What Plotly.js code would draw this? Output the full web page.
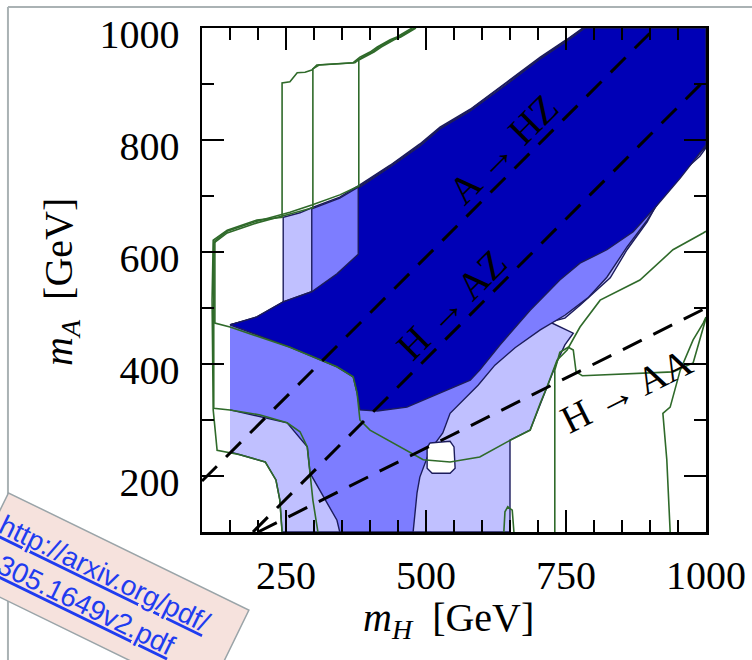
<!DOCTYPE html>
<html>
<head>
<meta charset="utf-8">
<script src="https://cdn.plot.ly/plotly-3.0.1.min.js"></script>
<style>
  html, body { margin: 0; padding: 0; background: #ffffff; }
  #chart { width: 752px; height: 660px; }
</style>
</head>
<body>
<div id="chart"></div>
<script>
// Allowed regions in the (m_H, m_A) plane, in GeV.
// Outer (lightest) region boundary
const lightH = [150,198,245,245,275,296,346,379,436,489,525,579,645,704,752,780,1000,1000,989,971,941,918,895,859,829,802,775,748,721,763,748,734,716,704,686,650,650,243,239,232,213,168,150];
const lightA = [470,482,509,662,670,679,698,718,755,793,823,855,904,948,980,1000,1000,786,771,755,723,696,654,604,554,529,505,482,475,455,434,404,359,330,282,264,100,100,157,193,225,238,243];

// Middle region boundary
const midH = [150,198,245,296,296,346,379,436,489,525,579,645,704,752,782,1000,1000,977,941,895,859,823,789,748,704,659,623,593,570,543,530,507,489,484,477,346,341,320,293,288,252,150];
const midA = [470,484,511,529,677,696,716,754,791,821,854,902,946,979,1000,1000,788,764,729,657,609,555,518,487,461,429,398,362,339,312,277,246,198,170,100,100,121,157,205,252,295,318];

// Inner (darkest) region boundary
const darkH = [150,198,245,296,341,379,379,436,489,525,579,645,704,752,784,1000,1000,989,954,913,870,823,775,739,686,632,596,579,525,466,413,382,377,370,341,257,150];
const darkA = [470,484,511,529,561,596,714,752,789,820,852,900,945,977,1000,1000,791,777,732,684,636,604,580,550,496,434,389,371,348,323,316,318,348,377,395,430,470];

// Excluded island inside the outer region
const holeH = [507,543,550,552,543,511,502,502,507];
const holeA = [259,262,252,214,205,205,214,250,259];

// Green contours
const g1H = [475,448,436,413,400,382,370,305,296,284,270,257,243,243,198,145,120,118,120,127,168,213,232,239,243];
const g1A = [1000,984,979,966,957,948,938,934,925,921,920,904,902,662,657,639,621,514,318,246,238,225,193,157,100];

const g2H = [479,452,439,416,404,386,373,309,298,298,257,198,145,121,121,121,150,204,252,275,288,293,298,307];
const g2A = [1000,984,979,966,957,948,938,934,927,679,668,652,634,616,514,321,318,309,295,279,252,205,157,100];

const g3H = [482,455,443,420,407,389,380,380,346,296,257,198,145,123,123,150,257,341,370,377,382,400,466,495,543,596,645,686,704,716,734,752,775,811,882,941,995,1000];
const g3A = [1000,984,979,966,957,948,943,718,702,684,671,655,637,620,473,466,430,395,377,348,300,282,246,229,225,234,261,282,330,359,407,425,466,514,550,604,634,637];

const g4H = [730,730,739,754,763,768,779,846,941,977,995,1000];
const g4A = [100,389,421,430,425,386,379,382,386,402,466,482];

const g5H = [936,930,923,936,954,977,995,1000];
const g5A = [100,229,312,323,389,443,473,484];

const g6H = [639,641,646,654,657];
const g6A = [100,136,145,139,100];

// Kinematic thresholds
const azLineH = [100, 909];   // A -> HZ
const azLineA = [191, 1000];
const hzLineH = [191, 1000];  // H -> AZ
const hzLineA = [100, 909];
const aaLineH = [200, 1000];  // H -> AA
const aaLineA = [100, 500];

// Axis ticks
const xTickVals = [250, 500, 750, 1000];
const yTickVals = [200, 400, 600, 800, 1000];

const NAVY = '#1c1c5c';
const GREEN = '#2f6a2a';

function region(x, y, fill) {
  return {
    x: x, y: y, type: 'scatter', mode: 'lines', fill: 'toself',
    fillcolor: fill, line: { color: NAVY, width: 1.4 },
    hoverinfo: 'skip', showlegend: false
  };
}
function contour(x, y) {
  return {
    x: x, y: y, type: 'scatter', mode: 'lines',
    line: { color: GREEN, width: 1.6 },
    hoverinfo: 'skip', showlegend: false
  };
}
function threshold(x, y) {
  return {
    x: x, y: y, type: 'scatter', mode: 'lines',
    line: { color: '#000000', width: 3, dash: '21px,13px' },
    hoverinfo: 'skip', showlegend: false
  };
}

const traces = [
  region(lightH, lightA, 'rgb(192,192,255)'),
  region(midH, midA, 'rgb(125,125,255)'),
  region(darkH, darkA, 'rgb(0,0,182)'),
  region(holeH, holeA, '#ffffff'),
  contour(g1H, g1A),
  contour(g2H, g2A),
  contour(g3H, g3A),
  contour(g4H, g4A),
  contour(g5H, g5A),
  contour(g6H, g6A),
  threshold(azLineH, azLineA),
  threshold(hzLineH, hzLineA),
  threshold(aaLineH, aaLineA)
];

const SERIF = 'Liberation Serif, Times New Roman, serif';

const axisCommon = {
  range: [100, 1000],
  showline: true, linewidth: 2.5, linecolor: '#000',
  mirror: 'ticks',
  ticks: 'inside', ticklen: 22, tickwidth: 2.5, tickcolor: '#000',
  showgrid: false, zeroline: false,
  tickfont: { family: SERIF, size: 40, color: '#000' },
  fixedrange: true
};

const layout = {
  width: 752, height: 660,
  margin: { l: 202, r: 46, t: 28, b: 128, pad: 0 },
  paper_bgcolor: '#ffffff', plot_bgcolor: '#ffffff',
  showlegend: false,
  xaxis: Object.assign({}, axisCommon, {
    tickmode: 'array', tickvals: xTickVals, ticktext: xTickVals.map(String),
    minor: { ticks: 'inside', ticklen: 12, tickwidth: 2.5, tickcolor: '#000', dtick: 50, tick0: 0, showgrid: false },
    ticklabelstandoff: 6
  }),
  yaxis: Object.assign({}, axisCommon, {
    tickmode: 'array', tickvals: yTickVals, ticktext: yTickVals.map(String),
    minor: { ticks: 'inside', ticklen: 12, tickwidth: 2.5, tickcolor: '#000', dtick: 100, tick0: 0, showgrid: false },
    ticklabelstandoff: 12, ticklabelshift: 6
  }),
  shapes: [
    // slide frame
    { type: 'line', xref: 'paper', yref: 'paper', x0: -0.385, x1: 1.10, y0: 1.0417, y1: 1.0417,
      line: { color: '#aab2b4', width: 2 }, layer: 'below' },
    { type: 'line', xref: 'paper', yref: 'paper', x0: -0.385, x1: -0.385, y0: 1.0417, y1: -0.27,
      line: { color: '#aab2b4', width: 2 }, layer: 'below' }
  ],
  annotations: [
    { text: 'A → HZ', x: 639, y: 784, xref: 'x', yref: 'y', showarrow: false, textangle: -45,
      font: { family: SERIF, size: 39, color: '#000' } },
    { text: 'H → AZ', x: 545, y: 507, xref: 'x', yref: 'y', showarrow: false, textangle: -45,
      font: { family: SERIF, size: 39, color: '#000' } },
    { text: 'H → AA', x: 858, y: 352, xref: 'x', yref: 'y', showarrow: false, textangle: -26.57,
      font: { family: SERIF, size: 39, color: '#000' } },
    { text: '<i>m</i><sub><i>H</i></sub>  [GeV]', x: 0.49, y: -0.175, xref: 'paper', yref: 'paper',
      showarrow: false, xanchor: 'center', yanchor: 'middle',
      font: { family: SERIF, size: 40, color: '#000' } },
    { text: '<i>m</i><sub><i>A</i></sub>  [GeV]', x: -0.28, y: 0.496, xref: 'paper', yref: 'paper',
      showarrow: false, xanchor: 'center', yanchor: 'middle', textangle: -90,
      font: { family: SERIF, size: 40, color: '#000' } },
    { text: '<span style="text-decoration:underline">http://arxiv.org/pdf/</span><br><span style="text-decoration:underline">1305.1649v2.pdf</span>',
      x: -0.187, y: -0.125, xref: 'paper', yref: 'paper', showarrow: false,
      xanchor: 'center', yanchor: 'middle', align: 'left', textangle: 26,
      width: 254, height: 84, borderpad: 6,
      bgcolor: '#f6e2dd', bordercolor: '#9aa4a8', borderwidth: 1.5,
      font: { family: 'Liberation Sans, Arial, sans-serif', size: 28, color: '#1f3cf0' } }
  ]
};

Plotly.newPlot('chart', traces, layout, { staticPlot: true, displayModeBar: false });
</script>
</body>
</html>
